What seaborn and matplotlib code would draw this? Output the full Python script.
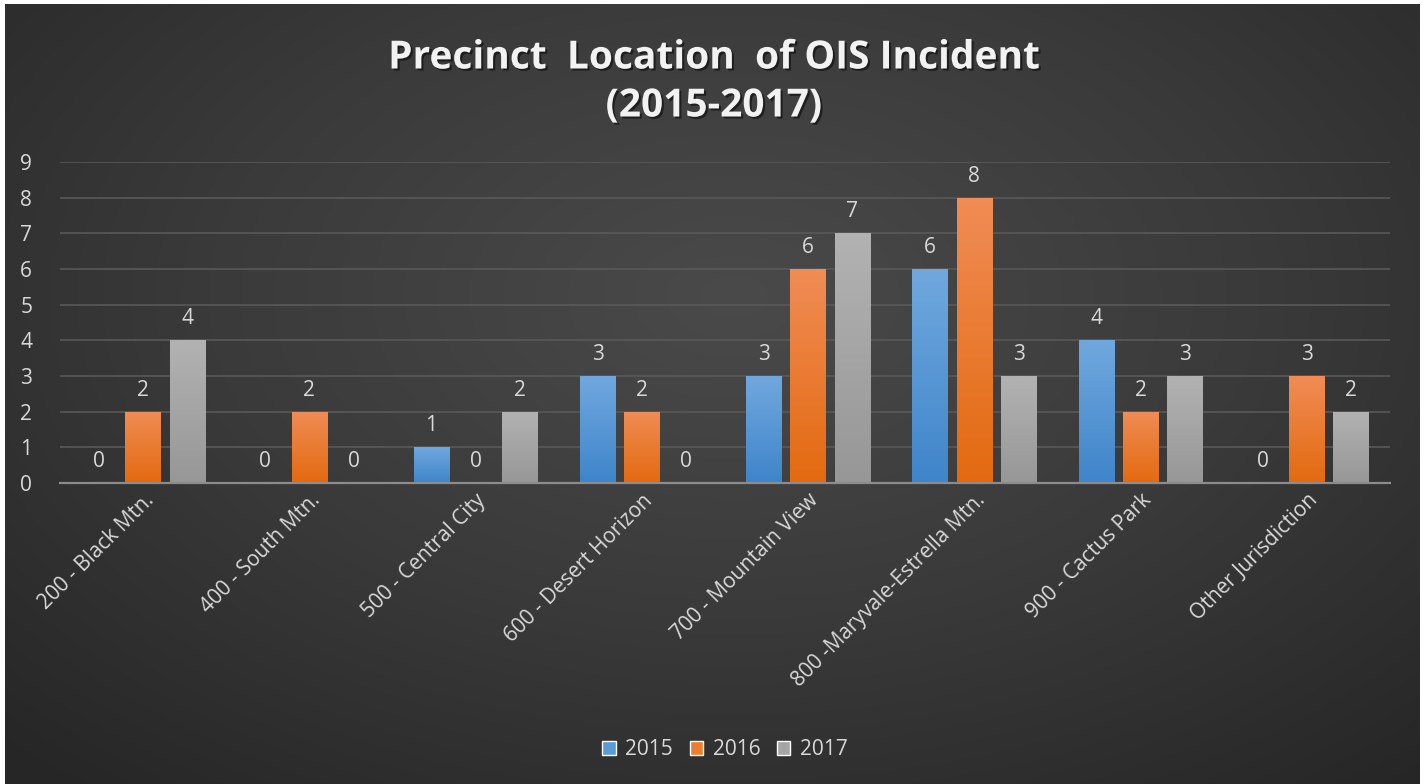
import numpy as np
import pandas as pd
import matplotlib
matplotlib.use("Agg")
import matplotlib.pyplot as plt
import matplotlib.patheffects as pe
from matplotlib.colors import LinearSegmentedColormap
import seaborn as sns

# ---- data ----
categories = ["200 - Black Mtn.", "400 - South Mtn.", "500 - Central City",
              "600 - Desert Horizon", "700 - Mountain View",
              "800 -Maryvale-Estrella Mtn.", "900 - Cactus Park",
              "Other Jurisdiction"]
years = ["2015", "2016", "2017"]
vals_2015 = [0, 0, 1, 3, 3, 6, 4, 0]
vals_2016 = [2, 2, 0, 2, 6, 8, 2, 3]
vals_2017 = [4, 0, 2, 0, 7, 3, 3, 2]
yticks = list(range(0, 10))

df = pd.DataFrame({
    "Precinct": categories * 3,
    "Year": [y for y in years for _ in categories],
    "Count": vals_2015 + vals_2016 + vals_2017,
})

sns.set_theme(style="dark")
plt.rcParams["font.family"] = ["Open Sans", "DejaVu Sans"]

W, H, DPI = 1427, 784, 100
fig = plt.figure(figsize=(W / DPI, H / DPI), dpi=DPI)
fig.patch.set_facecolor("white")

# background gradient panel
bg = fig.add_axes([0.0035, 0.0, 0.9915, 0.995], zorder=0)
yy, xx = np.mgrid[0:400, 0:700]
cx, cy = 360, 150
d = np.sqrt(((xx - cx) / 520.0) ** 2 + ((yy - cy) / 330.0) ** 2)
d = np.clip(d, 0, 1)
bg_cmap = LinearSegmentedColormap.from_list("bg", ["#4a4a4a", "#3a3a3a", "#262626"])
bg.imshow(d, cmap=bg_cmap, aspect="auto", extent=[0, 1, 0, 1], origin="upper",
          interpolation="bilinear")
bg.set_axis_off()

ax = fig.add_axes([60 / W, 1 - 483 / H, (1390 - 60) / W, (483 - 162) / H], zorder=1)
ax.patch.set_alpha(0)

palette = {"2015": "#5b9bd5", "2016": "#ed7d31", "2017": "#a5a5a5"}
sns.barplot(data=df, x="Precinct", y="Count", hue="Year", palette=palette,
            width=0.8, gap=0.2, ax=ax, saturation=1, legend=True, errorbar=None)

grad = {
    "2015": ("#70a8de", "#3f85ca"),
    "2016": ("#f08c55", "#e36a10"),
    "2017": ("#b2b2b2", "#979797"),
}

ax.set_ylim(0, 9)
ax.set_xlim(-0.5, len(categories) - 0.5)

# gradient fills and data labels
for cont, yr in zip(ax.containers, years):
    top_c, bot_c = grad[yr]
    cmap = LinearSegmentedColormap.from_list("g" + yr, [bot_c, top_c])
    for bar, v in zip(cont, df[df.Year == yr]["Count"]):
        x0, w, h = bar.get_x(), bar.get_width(), bar.get_height()
        bar.set_edgecolor("none")
        if h > 0:
            im = ax.imshow(np.linspace(0, 1, 64).reshape(-1, 1), cmap=cmap,
                           extent=[x0, x0 + w, 0, h], origin="lower",
                           aspect="auto", zorder=bar.get_zorder() + 0.1)
            im.set_clip_path(bar)
        ax.annotate(f"{int(v)}", (x0 + w / 2, h), xytext=(0, 8),
                    textcoords="offset points", ha="center", va="bottom",
                    color="#d9d9d9", fontsize=15)

ax.set_aspect("auto")
ax.set_ylim(0, 9)
ax.set_xlim(-0.5, len(categories) - 0.5)
ax.set_yticks(yticks)
ax.grid(axis="y", color="#595959", linewidth=1.2)
ax.grid(axis="x", visible=False)
ax.set_axisbelow(True)
for s in ["top", "right", "left"]:
    ax.spines[s].set_visible(False)
ax.spines["bottom"].set_color("#8c8c8c")
ax.spines["bottom"].set_linewidth(1.6)
ax.set_xlabel("")
ax.set_ylabel("")
ax.tick_params(axis="y", colors="#d9d9d9", labelsize=15, length=0, pad=20)
ax.tick_params(axis="x", colors="#d9d9d9", labelsize=15, length=0, pad=5)
ax.set_xticks(range(len(categories)))
ax.set_xticklabels(categories, rotation=45, ha="right", rotation_mode="anchor")

# legend
leg = ax.legend(loc="center", bbox_to_anchor=(0.5, 1 - (750 - 162) / (483 - 162)),
                ncol=3, frameon=False, fontsize=15, handlelength=0.65,
                handleheight=0.65, handletextpad=0.45, columnspacing=0.8)
for t in leg.get_texts():
    t.set_color("#d9d9d9")

# title
fig.text(0.5, 1 - 82 / H, "Precinct  Location  of OIS Incident\n(2015-2017)",
         ha="center", va="center", color="#f2f2f2", fontsize=28,
         fontweight="bold", linespacing=1.3,
         path_effects=[pe.withSimplePatchShadow(offset=(1.5, -1.5),
                                                shadow_rgbFace="black", alpha=0.5)])

fig.savefig("out.png", dpi=DPI, facecolor=fig.get_facecolor())
